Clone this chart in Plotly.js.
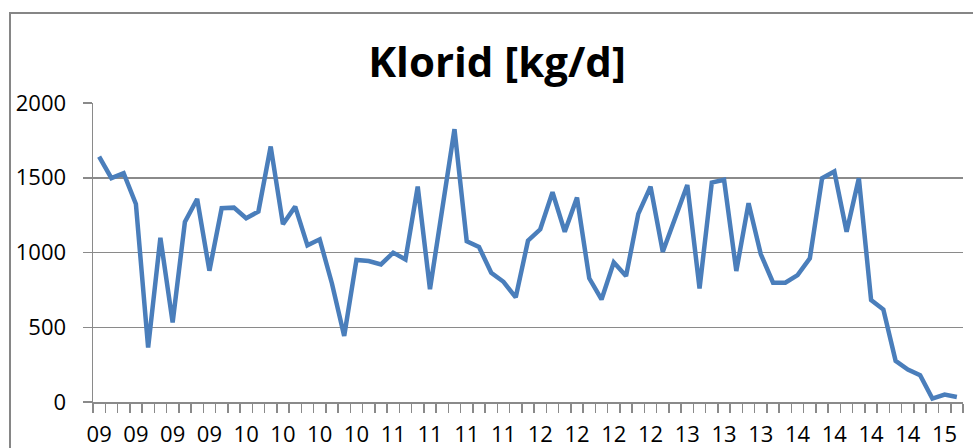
<!DOCTYPE html>
<html>
<head>
<meta charset="utf-8">
<script src="https://cdn.plot.ly/plotly-3.0.1.min.js"></script>
<style>
  html, body { margin: 0; padding: 0; background: #ffffff; }
  #frame { position: absolute; left: 9px; top: 12px; width: 1000px; height: 500px;
           border-left: 2px solid #868686; border-top: 2px solid #868686; }
  #chart { position: absolute; left: 0; top: 0; width: 973px; height: 448px; }
</style>
</head>
<body>
<div id="frame"></div>
<div id="chart"></div>
<script>
// Chloride load, kg/d, one value per sample (chronological)
const klorid = [
  1642, 1497, 1531, 1325, 364, 1099, 532, 1204, 1358, 878,
  1296, 1300, 1229, 1274, 1709, 1189, 1307, 1048, 1088, 793,
  442, 950, 943, 920, 999, 954, 1441, 755, 1290, 1825,
  1075, 1037, 865, 804, 700, 1079, 1155, 1403, 1139, 1367,
  827, 686, 934, 842, 1258, 1441, 1005, 1225, 1452, 760,
  1468, 1486, 876, 1330, 988, 798, 798, 849, 961, 1497,
  1542, 1139, 1497, 682, 619, 275, 217, 179, 23, 50, 34
];
// Year labels shown on every third sample
const yearLabels = [
  '09','09','09','09','10','10','10','10','11','11','11','11',
  '12','12','12','12','13','13','13','14','14','14','14','15'
];
const labelEvery = 3;
const yTicks = [0, 500, 1000, 1500, 2000];

const xIdx = klorid.map((_, i) => i);
const labelPos = yearLabels.map((_, i) => i * labelEvery);

const axisGray = '#8a8a8a';
const font = 'Open Sans, Noto Sans, sans-serif';

const trace = {
  x: xIdx,
  y: klorid,
  type: 'scatter',
  mode: 'lines',
  line: { color: '#4a7ebb', width: 4.5, shape: 'linear' },
  hoverinfo: 'y'
};

const layout = {
  width: 973,
  height: 448,
  margin: { l: 93, r: 10, t: 103, b: 46, pad: 0 },
  paper_bgcolor: 'rgba(0,0,0,0)',
  plot_bgcolor: 'rgba(0,0,0,0)',
  showlegend: false,
  font: { family: font, color: '#000000', size: 22 },
  title: {
    text: 'Klorid [kg/d]',
    font: { family: font, size: 42, color: '#000000', weight: 'bold' },
    x: 497 / 973, xref: 'container', xanchor: 'center',
    y: 1 - 62 / 448, yref: 'container', yanchor: 'middle'
  },
  xaxis: {
    range: [-0.5, klorid.length - 0.5],
    tickmode: 'array',
    tickvals: labelPos,
    ticktext: yearLabels,
    ticks: '',
    showgrid: false,
    zeroline: false,
    showline: true,
    linecolor: axisGray,
    linewidth: 1.5,
    ticklabelstandoff: 12,
    tickfont: { family: font, size: 22, color: '#000000' },
    minor: {
      tickmode: 'linear',
      tick0: 0.5,
      dtick: 1,
      ticks: 'outside',
      ticklen: 9,
      tickwidth: 1.5,
      tickcolor: axisGray,
      showgrid: false
    },
    fixedrange: true
  },
  yaxis: {
    range: [0, 2000],
    tickmode: 'array',
    tickvals: yTicks,
    ticks: 'outside',
    ticklen: 9,
    tickwidth: 1.5,
    tickcolor: axisGray,
    showgrid: true,
    gridcolor: axisGray,
    gridwidth: 1.5,
    zeroline: false,
    showline: true,
    linecolor: axisGray,
    linewidth: 1.5,
    ticklabelstandoff: 12,
    tickfont: { family: font, size: 22, color: '#000000' },
    fixedrange: true
  }
};

Plotly.newPlot('chart', [trace], layout, { staticPlot: true, displayModeBar: false });
</script>
</body>
</html>
